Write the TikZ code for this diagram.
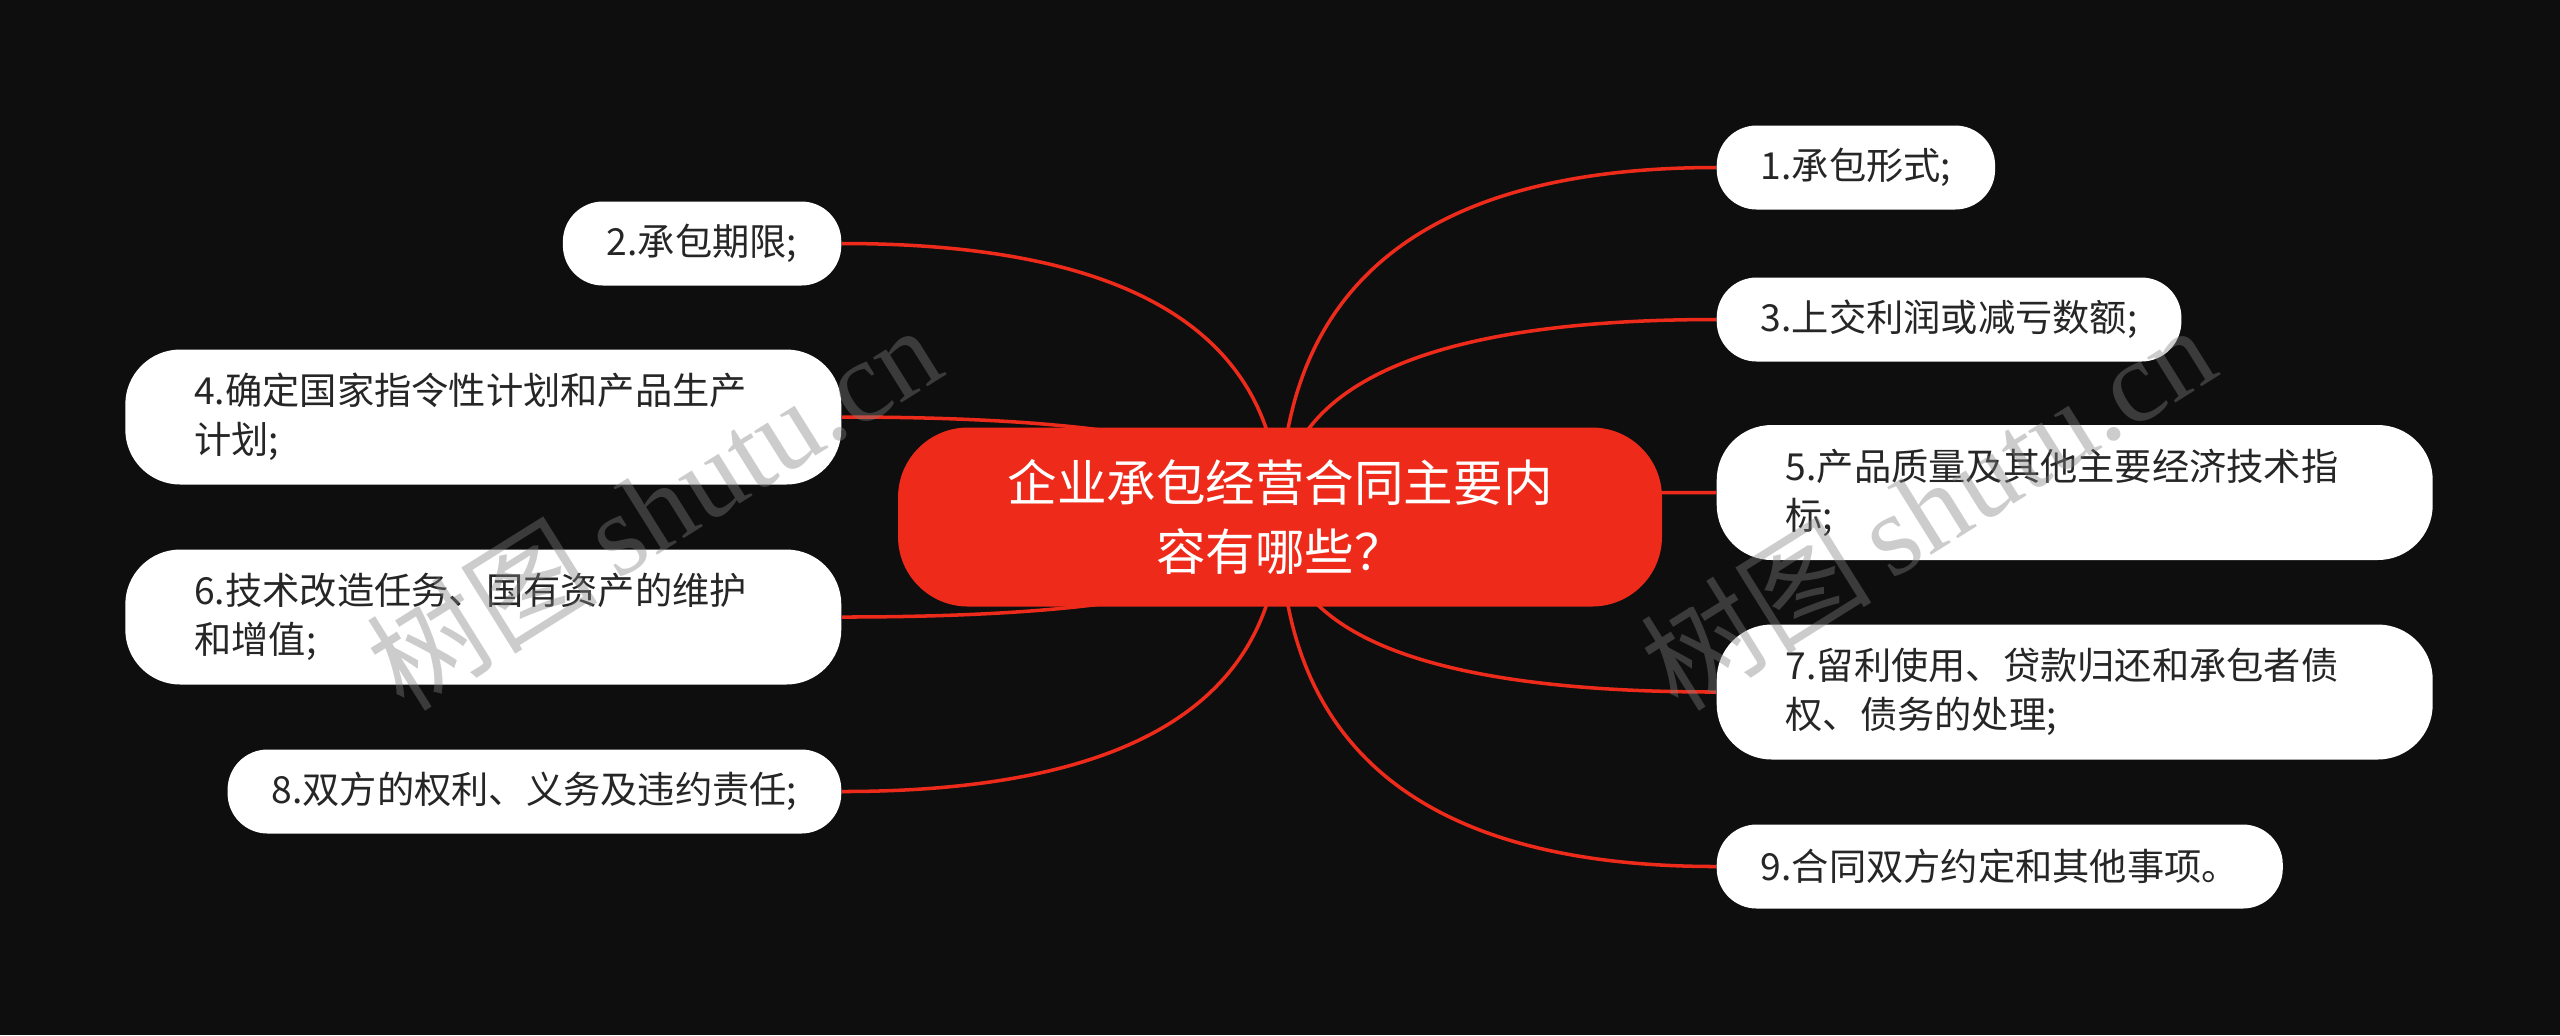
\documentclass[tikz,border=0pt]{standalone}
\usepackage{fontspec}
\setmainfont{Noto Sans CJK SC}
\newfontfamily\wmfont{Liberation Serif}
\usetikzlibrary{calc,backgrounds}

\definecolor{bgblack}{HTML}{0E0E0E}
\definecolor{mapred}{HTML}{EE2B1B}
\definecolor{itemtext}{HTML}{262626}

\tikzset{
  root/.style={fill=mapred, text=white, rounded corners=0.7cm, minimum width=7.64cm, minimum height=1.79cm, align=center, font=\fontsize{14.1pt}{19.5pt}\selectfont},
  leaf/.style={fill=white, text=itemtext, rounded corners=0.4cm, minimum height=0.84cm, inner xsep=0.44cm, font=\fontsize{10.6pt}{13.9pt}\selectfont},
  wideleaf/.style={leaf, rounded corners=0.55cm, minimum height=1.35cm, text width=5.78cm, inner xsep=0.69cm, align=left},
  branch/.style={draw=mapred, line width=1pt},
  watermark/.style={text=gray, opacity=0.4, rotate=32, font=\fontsize{33pt}{33pt}\selectfont}
}

\begin{document}
\begin{tikzpicture}
  \node[root] (c) at (12.80,-5.17) {企业承包经营合同主要内\\容有哪些？};

  \node[leaf, anchor=west] (n1) at (17.16,-1.675) {1.承包形式;};
  \node[leaf, anchor=west] (n3) at (17.16,-3.195) {3.上交利润或减亏数额;};
  \node[wideleaf, anchor=west] (n5) at (17.16,-4.925) {5.产品质量及其他主要经济技术指\\标;};
  \node[wideleaf, anchor=west] (n7) at (17.16,-6.92) {7.留利使用、贷款归还和承包者债\\权、债务的处理;};
  \node[leaf, anchor=west] (n9) at (17.16,-8.665) {9.合同双方约定和其他事项。};

  \node[leaf, anchor=east] (n2) at (8.42,-2.435) {2.承包期限;};
  \node[wideleaf, anchor=east] (n4) at (8.42,-4.17) {4.确定国家指令性计划和产品生产\\计划;};
  \node[wideleaf, anchor=east] (n6) at (8.42,-6.17) {6.技术改造任务、国有资产的维护\\和增值;};
  \node[leaf, anchor=east] (n8) at (8.42,-7.915) {8.双方的权利、义务及违约责任;};

  \begin{pgfonlayer}{background}
    \fill[bgblack] (0,0) rectangle (25.6,-10.35);
    \foreach \n/\a in {n1/west,n3/west,n5/west,n7/west,n9/west,n2/east,n4/east,n6/east,n8/east}
      \draw[branch] (c.center) .. controls ($(c.center)!2/3!(c.center |- \n.\a)$) and ($(\n.\a)!2/3!(c.center |- \n.\a)$) .. (\n.\a);
  \end{pgfonlayer}

  \node[watermark] (wm1) at (6.53,-5.06) {树图\,{\wmfont shutu.cn}};
  \node[watermark] (wm2) at (19.27,-5.06) {树图\,{\wmfont shutu.cn}};
\end{tikzpicture}
\end{document}
